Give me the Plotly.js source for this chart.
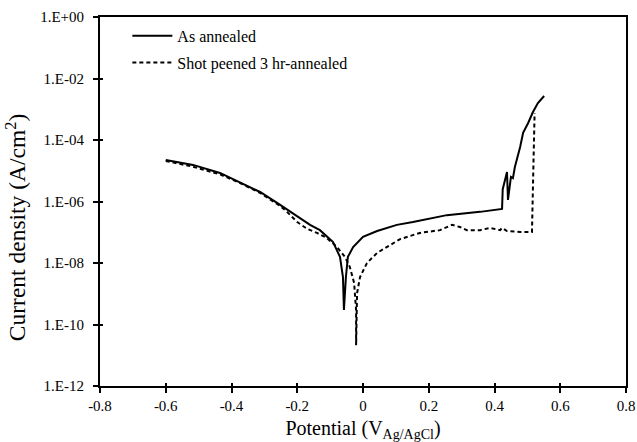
<!DOCTYPE html>
<html>
<head>
<meta charset="utf-8">
<script src="https://cdn.plot.ly/plotly-3.0.1.min.js"></script>
<style>html,body{margin:0;padding:0;background:#fff;}#chart{width:637px;height:442px;}</style>
</head>
<body>
<div id="chart"></div>
<script>
// As annealed
const annealedPotential = [-0.60, -0.517, -0.435, -0.374, -0.313, -0.252, -0.192, -0.161, -0.131, -0.122, -0.091, -0.070, -0.061, -0.058, -0.052, -0.046, -0.030, 0.000, 0.043, 0.103, 0.152, 0.255, 0.356, 0.423, 0.425, 0.432, 0.438, 0.441, 0.450, 0.456, 0.462, 0.478, 0.487, 0.502, 0.517, 0.532, 0.551];
const annealedCurrent = [2.24e-5, 1.55e-5, 8.5e-6, 4.27e-6, 2.04e-6, 7.8e-7, 2.9e-7, 1.74e-7, 1.17e-7, 9.5e-8, 4.8e-8, 1.58e-8, 3.5e-9, 2.95e-10, 3.5e-9, 1.58e-8, 3.3e-8, 7.1e-8, 1.10e-7, 1.74e-7, 2.14e-7, 3.6e-7, 4.6e-7, 5.75e-7, 2.5e-6, 5.0e-6, 9.1e-6, 1.12e-6, 6.3e-6, 5.75e-6, 1.32e-5, 5.9e-5, 1.7e-4, 3.5e-4, 8.1e-4, 1.58e-3, 2.7e-3];

// Shot peened 3 hr-annealed
const peenedPotential = [-0.60, -0.517, -0.435, -0.374, -0.313, -0.252, -0.231, -0.200, -0.170, -0.140, -0.110, -0.079, -0.055, -0.040, -0.027, -0.021, -0.021, -0.018, -0.009, 0.012, 0.043, 0.082, 0.113, 0.173, 0.234, 0.271, 0.295, 0.316, 0.356, 0.386, 0.417, 0.423, 0.438, 0.478, 0.514, 0.518, 0.522];
const peenedCurrent = [2.09e-5, 1.35e-5, 7.6e-6, 4.0e-6, 1.9e-6, 7.2e-7, 4.6e-7, 2.14e-7, 1.29e-7, 9.5e-8, 6.5e-8, 3.3e-8, 1.58e-8, 7.4e-9, 2.24e-9, 2.95e-10, 2.1e-11, 1.05e-9, 3.5e-9, 1.0e-8, 2.14e-8, 3.9e-8, 6.0e-8, 9.5e-8, 1.17e-7, 1.74e-7, 1.48e-7, 1.17e-7, 1.17e-7, 1.38e-7, 1.17e-7, 1.38e-7, 1.10e-7, 1.02e-7, 1.02e-7, 1.0e-5, 7.6e-4];

const seriesNames = ["As annealed", "Shot peened 3 hr-annealed"];
const xTickVals = [-0.8, -0.6, -0.4, -0.2, 0, 0.2, 0.4, 0.6, 0.8];
const xTickText = ["-0.8", "-0.6", "-0.4", "-0.2", "0", "0.2", "0.4", "0.6", "0.8"];
const yTickVals = [1, 1e-2, 1e-4, 1e-6, 1e-8, 1e-10, 1e-12];
const yTickText = ["1.E+00", "1.E-02", "1.E-04", "1.E-06", "1.E-08", "1.E-10", "1.E-12"];
const xTitle = "Potential (V<sub>Ag/AgCl</sub>)";
const yTitle = "Current density (A/cm<sup>2</sup>)";

const font = "'Liberation Serif', 'Times New Roman', 'DejaVu Serif', serif";

const traces = [
  {x: annealedPotential, y: annealedCurrent, name: seriesNames[0], mode: "lines", legendgroup: "a",
   line: {color: "#000", width: 2}},
  {x: peenedPotential, y: peenedCurrent, name: seriesNames[1], mode: "lines", legendgroup: "b",
   line: {color: "#000", width: 2, dash: "4px,3px"}},
  // empty helper traces so the inner tick axes are drawn (cross-style ticks)
  {x: [], y: [], xaxis: "x2", yaxis: "y", showlegend: false, hoverinfo: "skip"},
  {x: [], y: [], xaxis: "x", yaxis: "y2", showlegend: false, hoverinfo: "skip"}
];

const axisCommon = {showgrid: false, zeroline: false, tickcolor: "#000", tickwidth: 2};

const layout = {
  width: 637, height: 442,
  margin: {l: 100, r: 11, t: 17, b: 56},
  paper_bgcolor: "#fff", plot_bgcolor: "#fff",
  font: {family: font, color: "#000", size: 15},
  showlegend: true,
  legend: {x: 0.052, y: 0.995, xanchor: "left", yanchor: "top", bgcolor: "rgba(0,0,0,0)",
           itemwidth: 40,
           font: {family: font, size: 16, color: "#000"}, traceorder: "grouped", tracegroupgap: 3},
  xaxis: Object.assign({}, axisCommon, {
    range: [-0.8, 0.8], tickvals: xTickVals, ticktext: xTickText,
    showline: true, linecolor: "#000", linewidth: 2, mirror: true,
    ticks: "outside", ticklen: 5,
    tickfont: {family: font, size: 15, color: "#000"},
    title: {text: xTitle, font: {family: font, size: 20, color: "#000"}, standoff: 8}
  }),
  yaxis: Object.assign({}, axisCommon, {
    type: "log", range: [-12, 0], tickvals: yTickVals, ticktext: yTickText,
    showline: true, linecolor: "#000", linewidth: 2, mirror: true,
    ticks: "outside", ticklen: 5, ticklabelstandoff: 6,
    tickfont: {family: font, size: 15, color: "#000"}
  }),
  xaxis2: Object.assign({}, axisCommon, {
    overlaying: "x", anchor: "y", side: "bottom", range: [-0.8, 0.8], tickvals: xTickVals,
    showticklabels: false, showline: false, ticks: "inside", ticklen: 3
  }),
  yaxis2: Object.assign({}, axisCommon, {
    overlaying: "y", anchor: "x", side: "left", type: "log", range: [-12, 0], tickvals: yTickVals,
    showticklabels: false, showline: false, ticks: "inside", ticklen: 3
  }),
  annotations: [
    {text: yTitle, xref: "paper", yref: "paper", x: -0.16, y: 0.43, xanchor: "center", yanchor: "middle",
     textangle: -90, showarrow: false, font: {family: font, size: 23.5, color: "#000"}}
  ]
};

Plotly.newPlot("chart", traces, layout, {displayModeBar: false, staticPlot: true});
</script>
</body>
</html>
